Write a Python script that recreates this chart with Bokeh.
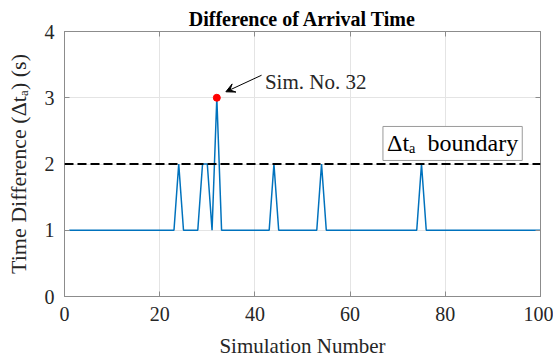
from bokeh.plotting import figure
from bokeh.models import Range1d, LinearAxis, Span, Arrow, VeeHead, Label
from bokeh.embed import file_html
from bokeh.resources import INLINE

# ---- data ----
sim_number = list(range(1, 101))
time_diff = [
    1, 1, 1, 1, 1, 1, 1, 1, 1, 1,
    1, 1, 1, 1, 1, 1, 1, 1, 1, 1,
    1, 1, 1, 2, 1, 1, 1, 1, 2, 2,
    1, 3, 1, 1, 1, 1, 1, 1, 1, 1,
    1, 1, 1, 2, 1, 1, 1, 1, 1, 1,
    1, 1, 1, 2, 1, 1, 1, 1, 1, 1,
    1, 1, 1, 1, 1, 1, 1, 1, 1, 1,
    1, 1, 1, 1, 2, 1, 1, 1, 1, 1,
    1, 1, 1, 1, 1, 1, 1, 1, 1, 1,
    1, 1, 1, 1, 1, 1, 1, 1, 1, 1,
]
highlight_sim = [32]
highlight_val = [3]
boundary = 2
x_ticks = [0, 20, 40, 60, 80, 100]
y_ticks = [0, 1, 2, 3, 4]

FONT = "Liberation Serif"
AX_COLOR = "#8c8c8c"
TXT_COLOR = "#262626"

p = figure(width=553, height=360,
           x_range=Range1d(0, 100), y_range=Range1d(0, 4),
           output_backend="svg", toolbar_location=None,
           min_border_left=64, min_border_right=13,
           min_border_top=31, min_border_bottom=62,
           title="Difference of Arrival Time")

p.title.align = "center"
p.title.text_font = FONT
p.title.text_font_size = "20px"
p.title.text_font_style = "bold"
p.title.text_color = "black"
p.title.standoff = 3

p.background_fill_color = "white"
p.border_fill_color = "white"
p.outline_line_color = AX_COLOR

p.xaxis.ticker = x_ticks
p.yaxis.ticker = y_ticks
p.xaxis.axis_label = "Simulation Number"
p.yaxis.axis_label = "Time Difference (Δtₐ) (s)"

for ax in (p.xaxis[0], p.yaxis[0]):
    ax.major_tick_in = 5
    ax.major_tick_out = 0
    ax.minor_tick_line_color = None
    ax.axis_line_color = AX_COLOR
    ax.major_tick_line_color = AX_COLOR
    ax.major_label_text_font = FONT
    ax.major_label_text_font_size = "20px"
    ax.major_label_text_font_style = "normal"
    ax.major_label_text_color = TXT_COLOR
    ax.axis_label_text_font = FONT
    ax.axis_label_text_font_size = "21px"
    ax.axis_label_text_font_style = "normal"
    ax.axis_label_text_color = TXT_COLOR

p.yaxis.axis_label_text_font_size = "22px"
p.xaxis.major_label_standoff = 10
p.xaxis.axis_label_standoff = 10
p.yaxis.major_label_standoff = 10
p.yaxis.axis_label_standoff = 11

for loc in ("above", "right"):
    ax = LinearAxis(ticker=x_ticks if loc == "above" else y_ticks,
                    major_tick_in=5, major_tick_out=0,
                    minor_tick_line_color=None,
                    axis_line_color=AX_COLOR, major_tick_line_color=AX_COLOR,
                    major_label_text_font_size="1px",
                    major_label_text_color=None,
                    major_label_standoff=0)
    p.add_layout(ax, loc)

p.xgrid.grid_line_color = "#e4e4e4"
p.ygrid.grid_line_color = "#e4e4e4"

p.add_layout(Span(location=boundary, dimension="width",
                  line_color="black", line_dash="9 4", line_width=2))

p.line(sim_number, time_diff, line_color="#0072BD", line_width=1.5)
p.scatter(highlight_sim, highlight_val, size=7, fill_color="red",
          line_color="red")

p.add_layout(Arrow(end=VeeHead(size=9, fill_color="black", line_color="black",
                               line_width=1),
                   x_start=41.4, y_start=3.34, x_end=33.9, y_end=3.09,
                   line_color="black", line_width=1))
p.add_layout(Label(x=42.1, y=3.24, text="Sim. No. 32", text_font=FONT,
                   text_font_size="21px", text_baseline="alphabetic",
                   text_color=TXT_COLOR))
p.add_layout(Label(x=66.9, y=2.31, text="Δtₐ\u2002boundary", text_font=FONT,
                   text_font_size="24px", text_baseline="middle",
                   text_align="left", text_color="black",
                   padding=4, border_line_color="#9a9a9a",
                   background_fill_color="white"))

open("out.html", "w").write(file_html(p, INLINE))
